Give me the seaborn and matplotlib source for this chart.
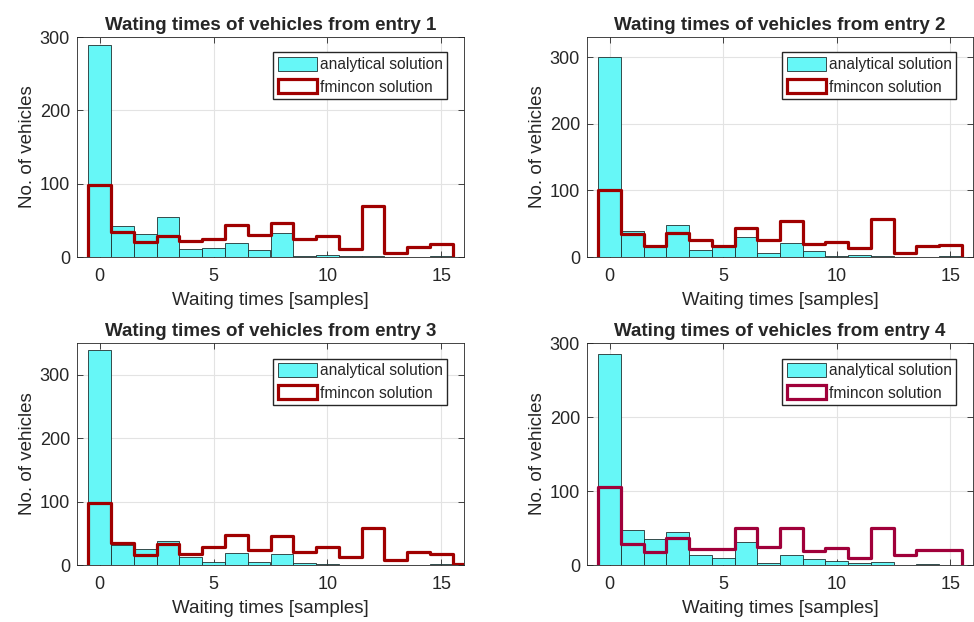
import numpy as np
import pandas as pd
import matplotlib
matplotlib.use("Agg")
import matplotlib.pyplot as plt
import seaborn as sns
from matplotlib.patches import Patch

# contagens por bin (tempo de espera 0..15 amostras)
analytical_1 = [289, 42, 31, 54, 11, 12, 19, 9, 33, 2, 3, 2, 1, 0, 0, 1]
fmincon_1 = [98, 34, 20, 28, 22, 24, 43, 30, 46, 24, 29, 11, 70, 5, 14, 18]

analytical_2 = [300, 39, 15, 48, 10, 15, 30, 6, 21, 9, 2, 3, 2, 0, 0, 2]
fmincon_2 = [100, 35, 17, 36, 26, 17, 43, 25, 54, 19, 23, 14, 57, 6, 16, 18]

analytical_3 = [339, 31, 25, 38, 13, 5, 19, 4, 18, 3, 1, 0, 0, 0, 0, 1]
fmincon_3 = [98, 35, 15, 33, 18, 29, 48, 24, 45, 21, 29, 13, 58, 8, 20, 17, 2]

analytical_4 = [285, 47, 35, 45, 14, 10, 31, 3, 14, 8, 5, 3, 4, 0, 1, 0]
fmincon_4 = [106, 28, 18, 37, 21, 21, 50, 25, 50, 19, 23, 9, 50, 14, 20, 20]

entries = [1, 2, 3, 4]
analytical = [analytical_1, analytical_2, analytical_3, analytical_4]
fmincon = [fmincon_1, fmincon_2, fmincon_3, fmincon_4]
y_max = [300, 330, 350, 300]
red_colors = ["#a00000", "#a00000", "#a00000", "#a0003a"]

cyan = "#66f7f7"

sns.set_theme(style="ticks")
plt.rcParams["font.family"] = ["Liberation Sans", "DejaVu Sans"]
plt.rcParams["axes.edgecolor"] = "#262626"
plt.rcParams["xtick.color"] = "#262626"
plt.rcParams["ytick.color"] = "#262626"

fig = plt.figure(figsize=(9.74, 6.22), dpi=100)
W, H = 974, 622
boxes = [(77, 37, 387, 220), (587, 37, 386, 220),
         (77, 343, 387, 222), (587, 343, 386, 222)]

for i, entry in enumerate(entries):
    l, t, w, h = boxes[i]
    ax = fig.add_axes([l / W, (H - t - h) / H, w / W, h / H])

    a = analytical[i]
    f = fmincon[i]
    df_a = pd.DataFrame({"t": np.arange(len(a)), "n": a})
    df_f = pd.DataFrame({"t": np.arange(len(f)), "n": f})
    edges_a = list(np.arange(len(a) + 1) - 0.5)
    edges_f = list(np.arange(len(f) + 1) - 0.5)

    sns.histplot(data=df_a, x="t", weights="n", bins=edges_a, element="bars",
                 color=cyan, alpha=1, edgecolor="#1f2f2f", linewidth=0.6, ax=ax)
    sns.histplot(data=df_f, x="t", weights="n", bins=edges_f, element="step",
                 fill=False, color=red_colors[i], linewidth=2.3, ax=ax)
    # fecha o contorno ate o zero nas pontas (estilo stairs do MATLAB)
    line = ax.lines[-1]
    xs, ys = line.get_data()
    line.set_data(np.r_[xs[0], xs, xs[-1]], np.r_[0, ys, 0])
    line.set_zorder(3)

    ax.set_xlim(-1, 16)
    ax.set_ylim(0, y_max[i])
    ax.set_xticks([0, 5, 10, 15])
    ax.set_yticks([0, 100, 200, 300])
    ax.tick_params(direction="in", top=True, right=True, labelsize=13,
                   length=4, width=0.6, pad=5)
    ax.tick_params(axis="x", pad=8)
    ax.grid(True, color="#e3e3e3", linewidth=0.8)
    ax.set_axisbelow(True)
    for s in ax.spines.values():
        s.set_linewidth(0.6)
        s.set_visible(True)

    ax.set_title(f"Wating times of vehicles from entry {entry}",
                 fontsize=13.5, fontweight="bold", pad=5)
    ax.set_xlabel("Waiting times [samples]", fontsize=13.5, color="#262626", labelpad=5)
    ax.set_ylabel("No. of vehicles", fontsize=13.5, color="#262626", labelpad=3)

    handles = [Patch(facecolor=cyan, edgecolor="#1f2f2f", linewidth=0.6),
               Patch(facecolor="white", edgecolor=red_colors[i], linewidth=2.3)]
    ax.legend(handles, ["analytical solution", "fmincon solution"],
              loc="upper right", bbox_to_anchor=(0.957, 0.93), fontsize=11.2,
              fancybox=False, framealpha=1, edgecolor="#262626",
              handlelength=2.5, handleheight=1.0, handletextpad=0.2,
              borderpad=0.3, labelspacing=0.45, borderaxespad=0)

fig.savefig("out.png", dpi=100)
